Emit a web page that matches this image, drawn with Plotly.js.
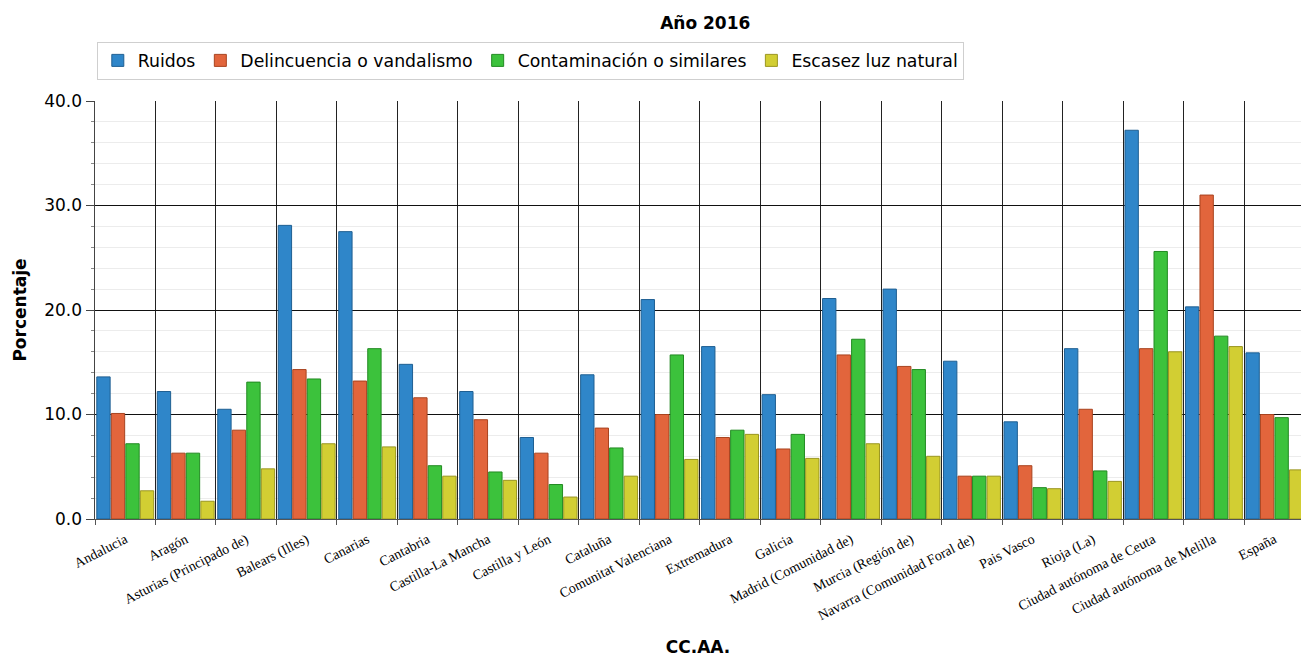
<!DOCTYPE html>
<html><head><meta charset="utf-8">
<script src="https://cdn.plot.ly/plotly-3.0.1.min.js"></script>
<style>html,body{margin:0;padding:0;overflow:hidden;background:#fff}</style>
</head><body><div id="chart" style="width:1301px;height:657px"></div>
<script>
const categories = ["Andalucia","Aragón","Asturias (Principado de)","Balears (Illes)","Canarias","Cantabria","Castilla-La Mancha","Castilla y León","Cataluña","Comunitat Valenciana","Extremadura","Galicia","Madrid (Comunidad de)","Murcia (Región de)","Navarra (Comunidad Foral de)","Pais Vasco","Rioja (La)","Ciudad autónoma de Ceuta","Ciudad autónoma de Melilla","España"];
const ruidos       = [13.6,12.2,10.5,28.1,27.5,14.8,12.2,7.8,13.8,21.0,16.5,11.9,21.1,22.0,15.1,9.3,16.3,37.2,20.3,15.9];
const delincuencia = [10.1,6.3,8.5,14.3,13.2,11.6,9.5,6.3,8.7,10.0,7.8,6.7,15.7,14.6,4.1,5.1,10.5,16.3,31.0,10.0];
const contaminacion= [7.2,6.3,13.1,13.4,16.3,5.1,4.5,3.3,6.8,15.7,8.5,8.1,17.2,14.3,4.1,3.0,4.6,25.6,17.5,9.7];
const escasez      = [2.7,1.7,4.8,7.2,6.9,4.1,3.7,2.1,4.1,5.7,8.1,5.8,7.2,6.0,4.1,2.9,3.6,16.0,16.5,4.7];
const seriesNames  = ["Ruidos","Delincuencia o vandalismo","Contaminación o similares","Escasez luz natural"];

const fills = ["#2f86c9","#e2653c","#3cc23c","#d2ce33"];
const edges = ["#1f5f92","#a8431f","#228a22","#9a9620"];
const vals = [ruidos, delincuencia, contaminacion, escasez];

const traces = vals.map((v,i)=>({
  type:'bar', name:seriesNames[i], x:categories, y:v,
  marker:{color:fills[i], line:{color:edges[i], width:1}},
  hoverinfo:'x+y'
}));

const layout = {
  width:1301, height:657,
  margin:{l:95, r:0, t:101, b:138},
  paper_bgcolor:'#fff', plot_bgcolor:'#fff',
  font:{family:'DejaVu Sans, Verdana, sans-serif', color:'#000'},
  title:{text:'<b>Año 2016</b>', xref:'paper', x:0.506, xanchor:'center', y:0.965, yanchor:'middle',
         font:{family:'DejaVu Sans, sans-serif', size:17, color:'#000'}},
  barmode:'group', bargap:0.04, bargroupgap:0.08,
  showlegend:true,
  legend:{orientation:'h', x:0.0015, xanchor:'left', y:1.142, yanchor:'top',
          bgcolor:'#fff', bordercolor:'#cfcfcf', borderwidth:1,
          font:{family:'DejaVu Sans, sans-serif', size:17.3, color:'#000'},
          itemclick:false, traceorder:'normal'},
  xaxis:{
    type:'category', range:[-0.5, 19.44],
    tickson:'boundaries', showgrid:true, gridcolor:'#222', gridwidth:1,
    ticks:'outside', ticklen:5, tickcolor:'#555',
    showline:true, linecolor:'#555', linewidth:1,
    tickangle:-27, ticklabelstandoff:6,
    tickfont:{family:'Liberation Serif, Times New Roman, serif', size:14, color:'#000'},
    title:{text:'<b>CC.AA.</b>', font:{family:'DejaVu Sans, sans-serif', size:17, color:'#000'}, standoff:45},
    automargin:false
  },
  yaxis:{
    range:[0,40], dtick:10, tick0:0, tickformat:'.1f',
    showgrid:true, gridcolor:'#111', gridwidth:1,
    ticks:'outside', ticklen:8, tickcolor:'#444',
    showline:true, linecolor:'#444', linewidth:1.5,
    zeroline:false,
    tickfont:{family:'DejaVu Sans, sans-serif', size:17, color:'#000'},
    title:{text:'<b>Porcentaje</b>', font:{family:'DejaVu Sans, sans-serif', size:17, color:'#000'}, standoff:13},
    minor:{dtick:2, showgrid:true, gridcolor:'#ececec', ticks:'outside', ticklen:3, tickcolor:'#888'},
    automargin:false
  }
};

Plotly.newPlot('chart', traces, layout, {displayModeBar:false, staticPlot:true});
</script></body></html>
